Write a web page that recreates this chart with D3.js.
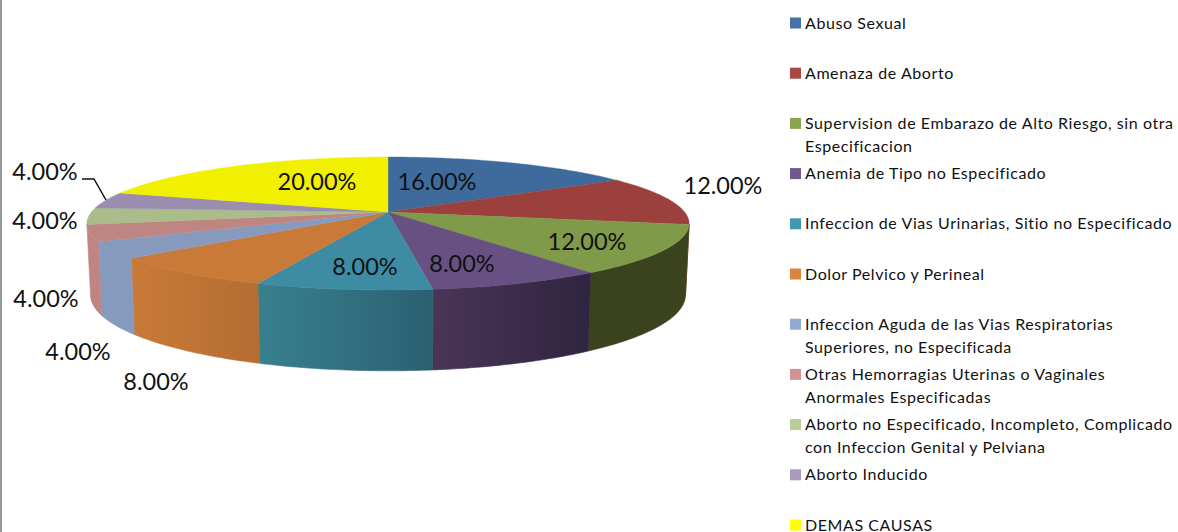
<!DOCTYPE html>
<html>
<head>
<meta charset="utf-8">
<script src="https://d3js.org/d3.v7.min.js"></script>
<style>
  html, body { margin: 0; padding: 0; background: #fff; overflow: hidden; }
  text { font-family: Lato, "Open Sans", sans-serif; fill: #111; }
</style>
</head>
<body>
<script>
const categories = [
  "Abuso Sexual",
  "Amenaza de Aborto",
  "Supervision de Embarazo de Alto Riesgo, sin otra\nEspecificacion",
  "Anemia de Tipo no Especificado",
  "Infeccion de Vias Urinarias, Sitio no Especificado",
  "Dolor Pelvico y Perineal",
  "Infeccion Aguda de las Vias Respiratorias\nSuperiores, no Especificada",
  "Otras Hemorragias Uterinas o Vaginales\nAnormales Especificadas",
  "Aborto no Especificado, Incompleto, Complicado\ncon Infeccion Genital y Pelviana",
  "Aborto Inducido",
  "DEMAS CAUSAS"
];
const values = [16, 12, 12, 8, 8, 8, 4, 4, 4, 4, 20];

const legendColors = ["#4572A7", "#AA4643", "#89A54E", "#71588F", "#4198AF", "#DB843D", "#93A9CF", "#D19392", "#B9CD96", "#A99BBD", "#FFFF00"];
const topColors = ["#3F6B9C", "#9C403E", "#7F9A48", "#675082", "#3E8CA3", "#C97A38", "#869ABD", "#BF8583", "#AABC89", "#9B8DB0", "#F0F000"];
const wallLeft = ["#3F6B9C", "#9C403E", "#3A431E", "#4A3557", "#39808F", "#C97A38", "#869ABD", "#BF8583", "#AABC89", "#9B8DB0", "#F0F000"];
const wallRight = ["#3F6B9C", "#9C403E", "#3A431E", "#2F2540", "#2B6071", "#B56C32", "#869ABD", "#BF8583", "#AABC89", "#9B8DB0", "#F0F000"];

// where the percentage labels sit, same order as values
const labelPos = [[437, 182], [723, 186], [587, 242], [462, 264], [365, 267], [156, 382], [78, 352], [46, 299], [45, 221], [45, 172], [317, 182]];

const width = 1178, height = 532;
const centerX = 388, centerY = 212;

const svg = d3.select("body").append("svg")
  .attr("width", width)
  .attr("height", height)
  .style("display", "block");

svg.append("rect").attr("width", 2).attr("height", height).attr("fill", "#9a9a9a");

// circle angle -> screen, perspective is what makes the front of the pie larger
function project(angle, rim) {
  const u = Math.sin(angle), v = Math.cos(angle), k = 1 + 0.173 * v;
  if (rim) return [centerX + 293 * u / k, 281.8 - 73.6 * v / k];
  return [centerX + 296.6 * u / k, centerY - 64.5 * v / k];
}

function arcPoints(a0, a1, rim) {
  const n = Math.max(2, Math.ceil((a1 - a0) * 60));
  return d3.range(n + 1).map(i => project(a0 + (a1 - a0) * i / n, rim));
}

const line = d3.line();
const slices = d3.pie().sort(null)(values);

function drawWalls() {
  // only the part of the rim facing the viewer is seen
  const from = 100.8 * Math.PI / 180, to = 259.2 * Math.PI / 180;
  const defs = svg.append("defs");

  slices.forEach((d, i) => {
    const a0 = Math.max(d.startAngle, from), a1 = Math.min(d.endAngle, to);
    if (a1 <= a0) return;

    const grad = defs.append("linearGradient").attr("id", "wall" + i);
    grad.append("stop").attr("offset", 0).attr("stop-color", wallLeft[i]);
    grad.append("stop").attr("offset", 1).attr("stop-color", wallRight[i]);

    const pts = arcPoints(a0, a1, false).concat(arcPoints(a0, a1, true).reverse());
    svg.append("path")
      .attr("d", line(pts) + "Z")
      .attr("fill", "url(#wall" + i + ")")
      .attr("stroke", "url(#wall" + i + ")")
      .attr("stroke-width", 0.6);
  });
}

function drawTop() {
  svg.selectAll("path.top")
    .data(slices)
    .enter()
    .append("path")
    .attr("class", "top")
    .attr("d", d => line([[centerX, centerY]].concat(arcPoints(d.startAngle, d.endAngle, false))) + "Z")
    .attr("fill", (d, i) => topColors[i])
    .attr("stroke", (d, i) => topColors[i])
    .attr("stroke-width", 0.4);
}

function drawLabels() {
  svg.selectAll("text.pct")
    .data(values)
    .enter()
    .append("text")
    .attr("class", "pct")
    .attr("x", (d, i) => labelPos[i][0])
    .attr("y", (d, i) => labelPos[i][1])
    .attr("dy", "0.35em")
    .attr("text-anchor", "middle")
    .style("font-size", "23.5px")
    .text(d => d.toFixed(2) + "%");

  // leader for the Aborto Inducido label
  svg.append("path")
    .attr("d", "M82,179H94L106,200")
    .attr("fill", "none")
    .attr("stroke", "#111")
    .attr("stroke-width", 1.5);
}

function drawLegend() {
  const y = d3.scaleLinear().domain([0, categories.length - 1]).range([23, 525]);

  const rows = svg.selectAll("g.legend")
    .data(categories)
    .enter()
    .append("g")
    .attr("class", "legend")
    .attr("transform", (d, i) => "translate(790," + y(i) + ")");

  rows.append("rect")
    .attr("y", -5.5)
    .attr("width", 11)
    .attr("height", 11)
    .attr("fill", (d, i) => legendColors[i]);

  rows.each(function(d) {
    d3.select(this).selectAll("text")
      .data(d.split("\n"))
      .enter()
      .append("text")
      .attr("x", 15)
      .attr("y", (t, j) => j * 23)
      .attr("dy", "0.35em")
      .style("font-size", "16px")
      .style("letter-spacing", "0.58px")
      .text(t => t);
  });
}

drawWalls();
drawTop();
drawLabels();
drawLegend();
</script>
</body>
</html>
